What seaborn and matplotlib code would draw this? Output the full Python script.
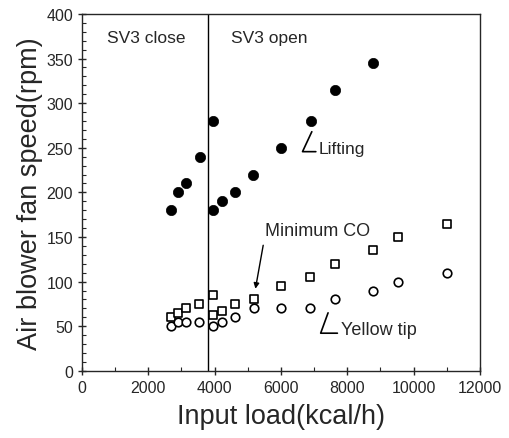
"""Air blower fan speed vs input load."""

import numpy as np
import matplotlib
matplotlib.use("Agg")
import matplotlib.pyplot as plt
from matplotlib.ticker import MultipleLocator
import seaborn as sns

# Lifting limit (filled circles)
lift_load = [2670, 2900, 3130, 3560, 3940, 3950, 4230, 4600, 5170, 6000, 6920, 7630, 8760]
lift_rpm = [180, 200, 210, 240, 280, 180, 190, 200, 220, 250, 280, 315, 345]

# Minimum CO (open squares)
co_load = [2670, 2910, 3140, 3540, 3940, 3950, 4220, 4610, 5190, 6000, 6890, 7640, 8760, 9520, 11000]
co_rpm = [60, 65, 70, 75, 85, 63, 67, 75, 80, 95, 105, 120, 135, 150, 165]

# Yellow tip limit (open circles)
tip_load = [2670, 2910, 3140, 3540, 3950, 4220, 4610, 5190, 6000, 6890, 7640, 8760, 9520, 11000]
tip_rpm = [50, 55, 55, 55, 50, 55, 60, 70, 70, 70, 80, 90, 100, 110]

SV3_SWITCH = 3800

sns.set_style("ticks")
plt.rcParams["font.family"] = ["Liberation Sans", "DejaVu Sans"]

fig = plt.figure(figsize=(5.09, 4.39), dpi=100)
ax = fig.add_axes([0.161, 0.153, 0.782, 0.813])

sns.scatterplot(x=lift_load, y=lift_rpm, ax=ax, marker="o", s=55,
                color="black", edgecolor="black", linewidth=0.5)
sns.scatterplot(x=co_load, y=co_rpm, ax=ax, marker="s", s=30,
                facecolor="white", edgecolor="black", linewidth=1.2)
sns.scatterplot(x=tip_load, y=tip_rpm, ax=ax, marker="o", s=38,
                facecolor="white", edgecolor="black", linewidth=1.2)

ax.axvline(SV3_SWITCH, color="black", linewidth=1.0)

ax.set_xlim(0, 12000)
ax.set_ylim(0, 400)
ax.xaxis.set_major_locator(MultipleLocator(2000))
ax.xaxis.set_minor_locator(MultipleLocator(1000))
ax.yaxis.set_major_locator(MultipleLocator(50))
ax.yaxis.set_minor_locator(MultipleLocator(10))
ax.tick_params(which="major", direction="inout", length=6, width=1, labelsize=11.5)
ax.tick_params(which="minor", direction="in", length=3, width=0.8)
for sp in ax.spines.values():
    sp.set_linewidth(1.0)
    sp.set_visible(True)

ax.set_xlabel("Input load(kcal/h)", fontsize=19.5, labelpad=6)
ax.set_ylabel("Air blower fan speed(rpm)", fontsize=19.5, labelpad=2)

ax.text(750, 374, "SV3 close", fontsize=12.5, va="center", ha="left")
ax.text(4500, 374, "SV3 open", fontsize=12.5, va="center", ha="left")

ax.annotate("Lifting", xy=(6930, 268), xytext=(7150, 249), fontsize=12.5,
            va="center", ha="left",
            arrowprops=dict(arrowstyle="-", color="black", lw=1.2,
                            connectionstyle="angle,angleA=0,angleB=65",
                            shrinkA=0, shrinkB=0, relpos=(0, 0.3)))
ax.annotate("Yellow tip", xy=(7420, 65), xytext=(7800, 46), fontsize=13,
            va="center", ha="left",
            arrowprops=dict(arrowstyle="-", color="black", lw=1.2,
                            connectionstyle="angle,angleA=0,angleB=70",
                            shrinkA=0, shrinkB=0, relpos=(0, 0.3)))
ax.annotate("Minimum CO", xy=(5230, 92), xytext=(7100, 157), fontsize=13,
            va="center", ha="center",
            arrowprops=dict(arrowstyle="-|>", color="black", lw=1.0,
                            mutation_scale=8, shrinkA=2, shrinkB=0,
                            relpos=(0.0, 0.2)))

fig.savefig("out.png", dpi=100, facecolor="white")
plt.close(fig)
